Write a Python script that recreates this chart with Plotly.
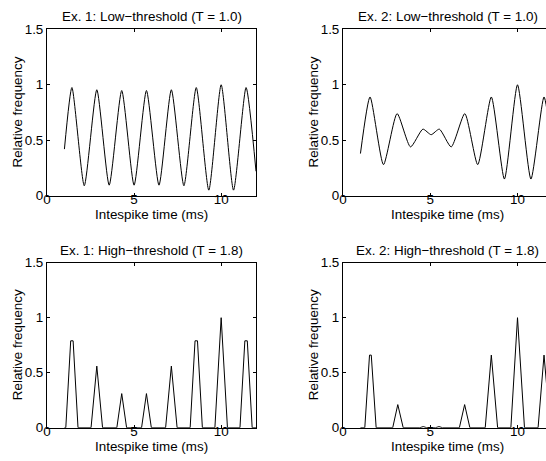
import plotly.graph_objects as go

# ---------------- data ----------------
titles = ["Ex. 1: Low\u2212threshold (T = 1.0)", "Ex. 2: Low\u2212threshold (T = 1.0)",
          "Ex. 1: High\u2212threshold (T = 1.8)", "Ex. 2: High\u2212threshold (T = 1.8)"]
x_label = "Intespike time (ms)"
y_label = "Relative frequency"
x_ticks = [0, 5, 10]
y_ticks = [0, 0.5, 1, 1.5]
y_tick_text = ["0", "0.5", "1", "1.5"]

ex1_low_x = [1.0, 1.43, 2.14, 2.86, 3.57, 4.29, 5.0, 5.71, 6.43, 7.14, 7.86, 8.57, 9.29, 10.0, 10.71, 11.43, 12.0]
ex1_low_y = [0.42, 0.975, 0.09, 0.955, 0.095, 0.948, 0.095, 0.948, 0.095, 0.955, 0.09, 0.975, 0.05, 1.0, 0.05, 0.975, 0.22]

ex2_low_x = [1.0, 1.55, 2.32, 3.1, 3.87, 4.58, 5.05, 5.52, 6.2, 6.98, 7.72, 8.5, 9.25, 10.0, 10.77, 11.52, 12.0]
ex2_low_y = [0.38, 0.89, 0.28, 0.74, 0.44, 0.6, 0.55, 0.6, 0.44, 0.74, 0.28, 0.89, 0.15, 1.0, 0.15, 0.89, 0.4]

ex1_high_x = [1.0, 1.08, 1.36, 1.5, 1.78, 2.53, 2.86, 3.19, 4.01, 4.29, 4.57, 5.43, 5.71, 5.99,
              6.81, 7.14, 7.47, 8.22, 8.5, 8.64, 8.92, 9.64, 10.0, 10.36, 11.08, 11.36, 11.5, 11.78, 12.0]
ex1_high_y = [0, 0, 0.79, 0.79, 0, 0, 0.56, 0, 0, 0.31, 0, 0, 0.31, 0,
              0, 0.56, 0, 0, 0.79, 0.79, 0, 0, 1.0, 0, 0, 0.79, 0.79, 0, 0]

ex2_high_x = [1.0, 1.25, 1.52, 1.62, 1.9, 2.85, 3.14, 3.45, 4.4, 4.6, 4.8, 5.3, 5.5, 5.7,
              6.67, 6.97, 7.27, 8.15, 8.5, 8.86, 9.62, 10.0, 10.4, 11.18, 11.52, 11.88, 12.0]
ex2_high_y = [0, 0, 0.66, 0.66, 0, 0, 0.21, 0, 0, 0.01, 0, 0, 0.01, 0,
              0, 0.21, 0, 0, 0.66, 0, 0, 1.0, 0, 0, 0.66, 0, 0]

series = [(ex1_low_x, ex1_low_y, "spline"), (ex2_low_x, ex2_low_y, "spline"),
          (ex1_high_x, ex1_high_y, "linear"), (ex2_high_x, ex2_high_y, "linear")]

# ---------------- layout geometry ----------------
W, H = 546, 461
FONT = "Liberation Sans, Arial, Helvetica, sans-serif"
FS = 13.4
left_px = [(47, 256), (343, 546)]
top_px = [(29.3, 195.7), (262.7, 427.7)]
x_ranges = [[0, 12], [0, (546 - 343) / 17.45]]

fig = go.Figure()
for i, (xs, ys, shp) in enumerate(series):
    r, c = divmod(i, 2)
    ax = "" if i == 0 else str(i + 1)
    fig.add_trace(go.Scatter(x=xs, y=ys, mode="lines",
                             line=dict(color="black", width=1, shape=shp, smoothing=0.6),
                             xaxis="x" + ax, yaxis="y" + ax, showlegend=False,
                             hoverinfo="skip"))
    x0, x1 = left_px[c]
    t0, t1 = top_px[r]
    xd = [x0 / W, x1 / W]
    yd = [1 - t1 / H, 1 - t0 / H]
    fig.update_layout(**{
        "xaxis" + ax: dict(domain=xd, range=x_ranges[c], anchor="y" + ax, automargin=False,
                           tickvals=x_ticks, ticks="inside", ticklen=3, tickcolor="black",
                           ticklabelstandoff=-9,
                           showline=True, linecolor="black", linewidth=1, mirror="ticks",
                           showgrid=False, zeroline=False,
                           tickfont=dict(family=FONT, size=FS, color="black")),
        "yaxis" + ax: dict(domain=yd, range=[0, 1.5], anchor="x" + ax, automargin=False,
                           tickvals=y_ticks, ticktext=y_tick_text, ticks="inside", ticklen=3,
                           tickcolor="black", showline=True, linecolor="black", linewidth=1,
                           mirror="ticks" if c == 0 else False,
                           showgrid=False, zeroline=False,
                           tickfont=dict(family=FONT, size=FS, color="black")),
    })
    full_right = x0 + 17.45 * 12
    cx = (x0 + full_right) / 2 / W
    fig.add_annotation(text=titles[i], x=cx, y=1 - (t0 - 12.5) / H, xref="paper", yref="paper",
                       xanchor="center", yanchor="middle", showarrow=False,
                       font=dict(family=FONT, size=FS, color="black"))
    fig.add_annotation(text=x_label, x=cx, y=1 - (t1 + 19) / H, xref="paper", yref="paper",
                       xanchor="center", yanchor="middle", showarrow=False,
                       font=dict(family=FONT, size=FS, color="black"))
    fig.add_annotation(text=y_label, x=(x0 - 30) / W, y=1 - (t0 + t1) / 2 / H,
                       xref="paper", yref="paper", textangle=-90,
                       xanchor="center", yanchor="middle", showarrow=False,
                       font=dict(family=FONT, size=FS, color="black"))

fig.update_layout(template="none", width=W, height=H, margin=dict(l=0, r=0, t=0, b=0),
                  paper_bgcolor="white", plot_bgcolor="white",
                  font=dict(family=FONT, size=FS, color="black"))
fig.write_html("out.html", config={"displayModeBar": False},
               post_script="document.body.style.margin='0';document.body.style.overflow='hidden';")
